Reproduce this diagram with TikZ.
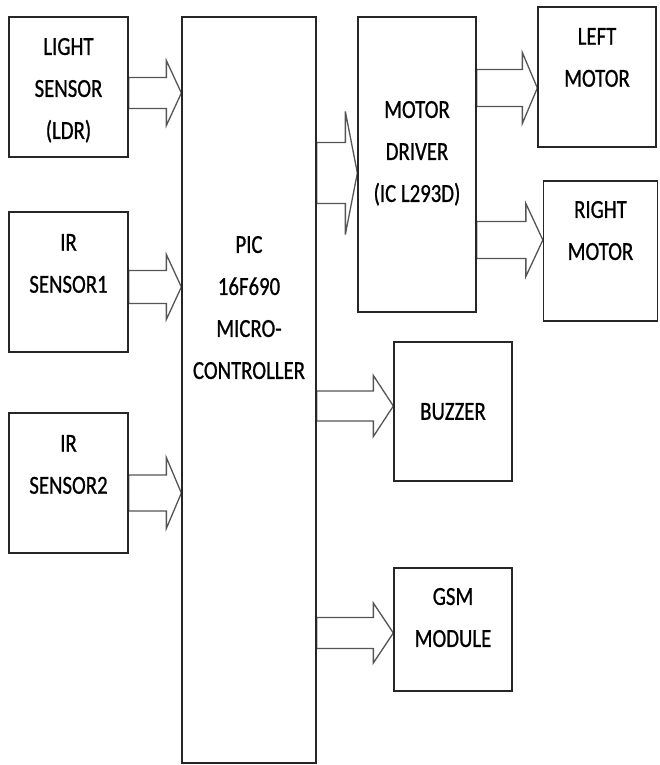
\documentclass[tikz,border=0pt]{standalone}
\usepackage{fontspec}
\setmainfont{Carlito}[FakeStretch=0.8, FakeBold=0.8]
\usepackage{tikz}
\usetikzlibrary{calc,positioning}
\pgfdeclarelayer{edgelayer}
\pgfdeclarelayer{nodelayer}
\pgfsetlayers{edgelayer,nodelayer,main}
\definecolor{arrgray}{HTML}{555555}
\tikzstyle{block}=[rectangle, draw=black!85, line width=1.3pt, inner sep=0pt]
\tikzstyle{caption}=[align=center, inner sep=0pt, font=\fontsize{26}{42}\selectfont]
\tikzstyle{fat}=[draw=arrgray, line width=1.3pt, line join=miter, fill=white]
% block arrow: from, to, y of the tip, half shaft, half head, head length
\newcommand{\fatarrow}[6]{%
  \draw [style=fat] (#1.east |- 0,#3-#4) -- ($(#2.west |- 0,#3-#4)+(-#6,0)$)
    -- ($(#2.west |- 0,#3-#5)+(-#6,0)$) -- (#2.west |- 0,#3)
    -- ($(#2.west |- 0,#3+#5)+(-#6,0)$) -- ($(#2.west |- 0,#3+#4)+(-#6,0)$)
    -- (#1.east |- 0,#3+#4) -- cycle;}

\begin{document}
\begin{tikzpicture}[x=1pt, y=-1pt]
				\useasboundingbox (0,0) rectangle (659,765);
				\begin{pgfonlayer}{nodelayer}
					\node [style=block, minimum width=119pt, minimum height=140pt] (ldr) at (68.5, 87) {};
					\node [style=block, minimum width=119pt, minimum height=140pt] (ir1) at (68.5, 282) {};
					\node [style=block, minimum width=119pt, minimum height=140pt] (ir2) at (68.5, 483) {};
					\node [style=block, minimum width=134pt, minimum height=746pt] (pic) at (249, 390) {};
					\node [style=block, minimum width=118pt, minimum height=295pt] (drv) at (417, 164.5) {};
					\node [style=block, minimum width=118pt, minimum height=140pt] (lm) at (597, 77) {};
					\node [style=block, minimum width=114pt, minimum height=140pt] (rm) at (600.5, 251) {};
					\node [style=block, minimum width=118pt, minimum height=139pt] (buz) at (453, 411.5) {};
					\node [style=block, minimum width=118pt, minimum height=123pt] (gsm) at (453, 629.5) {};

					\node [style=caption, below=21.5pt of ldr.north] (ldr-t) {LIGHT\\SENSOR\\(LDR)};
					\node [style=caption, below=22.5pt of ir1.north] (ir1-t) {IR\\SENSOR1};
					\node [style=caption, below=22.5pt of ir2.north] (ir2-t) {IR\\SENSOR2};
					\node [style=caption, below=219.5pt of pic.north] (pic-t) {PIC\\16F690\\MICRO-\\CONTROLLER};
					\node [style=caption, below=84.5pt of drv.north] (drv-t) {MOTOR\\DRIVER\\(IC L293D)};
					\node [style=caption, below=21.5pt of lm.north] (lm-t) {LEFT\\MOTOR};
					\node [style=caption, below=20.5pt of rm.north] (rm-t) {RIGHT\\MOTOR};
					\node [style=caption] (buz-t) at (buz.center) {BUZZER};
					\node [style=caption, below=20.5pt of gsm.north] (gsm-t) {GSM\\MODULE};
				\end{pgfonlayer}
				\begin{pgfonlayer}{edgelayer}
					\fatarrow{ldr}{pic}{93}{15.5}{32.5}{15}
					\fatarrow{ir1}{pic}{287}{16.5}{32.5}{15}
					\fatarrow{ir2}{pic}{493}{18}{35.5}{15}
					\fatarrow{pic}{drv}{173}{30.5}{61.5}{12}
					\fatarrow{drv}{lm}{88}{18.5}{35.5}{15}
					\fatarrow{drv}{rm}{240}{18.5}{36.5}{17}
					\fatarrow{pic}{buz}{406}{15}{30.5}{20}
					\fatarrow{pic}{gsm}{633}{15.5}{30}{20}
				\end{pgfonlayer}
			\end{tikzpicture}
\end{document}
